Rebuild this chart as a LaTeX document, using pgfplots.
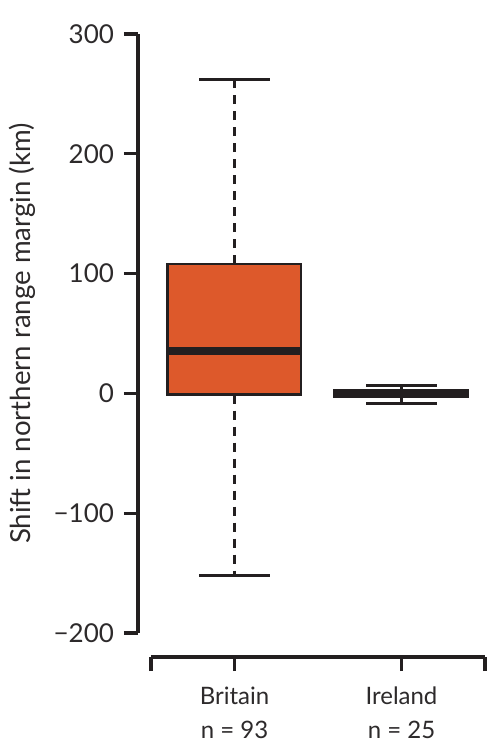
\documentclass[border=0pt]{standalone}
\usepackage{pgfplots}
\pgfplotsset{compat=1.18}
\usepackage{fontspec}
\setmainfont{Lato}
\definecolor{boxfill}{RGB}{221,89,43}
\definecolor{ink}{RGB}{35,31,32}
\definecolor{txt}{RGB}{45,42,43}
\begin{document}
\begin{tikzpicture}
\useasboundingbox (-69pt,-46.5pt) rectangle (180.5pt,328.5pt);
\begin{axis}[
  at={(0pt,0pt)}, anchor=south west,
  scale only axis, width=173.5pt, height=311.5pt,
  xmin=0.4222, xmax=2.5, ymin=-220, ymax=300,
  clip=false,
  axis x line*=bottom, axis y line*=left,
  axis line style={draw=none},
  xtick={0.5,1,2,2.5},
  xticklabels={{},{Britain\\n = 93},{Ireland\\n = 25},{}},
  ytick={-200,-100,0,100,200,300},
  yticklabels={−200,−100,0,100,200,300},
  tick align=outside,
  major tick length=7pt,
  tick style={line width=1.6pt, color=ink},
  xticklabel style={font=\fontsize{12}{17}\selectfont, align=center, text=txt, yshift=-4.5pt},
  yticklabel style={font=\fontsize{13}{15}\selectfont, text=txt, xshift=-1.5pt},
  ylabel={Shift in northern range margin (km)},
  ylabel style={at={(rel axis cs:-0.3343,0.519)}, anchor=center, font=\fontsize{13.8}{16}\selectfont, text=txt},
]
\draw[line width=1.6pt, ink] (axis cs:0.4222,-200) -- (axis cs:0.4222,300);
\draw[line width=1.6pt, ink] (axis cs:0.5,-220) -- (axis cs:2.5,-220);
% Britain: whiskers
\addplot[ink, line width=1.2pt, dash pattern=on 4.5pt off 3.5pt] coordinates {(1,108) (1,262)};
\addplot[ink, line width=1.2pt, dash pattern=on 4.5pt off 3.5pt] coordinates {(1,-1) (1,-152)};
\addplot[ink, line width=1.2pt] coordinates {(0.79,262) (1.21,262)};
\addplot[ink, line width=1.2pt] coordinates {(0.79,-152) (1.21,-152)};
% Britain: box and median
\addplot[draw=ink, fill=boxfill, line width=1.2pt] coordinates {(0.6,-1) (1.4,-1) (1.4,108) (0.6,108)} -- cycle;
\addplot[ink, line width=4pt] coordinates {(0.6,35) (1.4,35)};
% Ireland: whiskers
\addplot[ink, line width=1.2pt] coordinates {(2,3) (2,6.7)};
\addplot[ink, line width=1.2pt] coordinates {(2,-3) (2,-8.4)};
\addplot[ink, line width=1.2pt] coordinates {(1.79,6.7) (2.21,6.7)};
\addplot[ink, line width=1.2pt] coordinates {(1.79,-8.4) (2.21,-8.4)};
% Ireland: box and median
\addplot[draw=ink, fill=boxfill, line width=1.2pt] coordinates {(1.6,-3) (2.4,-3) (2.4,3) (1.6,3)} -- cycle;
\addplot[ink, line width=4pt] coordinates {(1.6,0) (2.4,0)};
\end{axis}
\end{tikzpicture}
\end{document}
